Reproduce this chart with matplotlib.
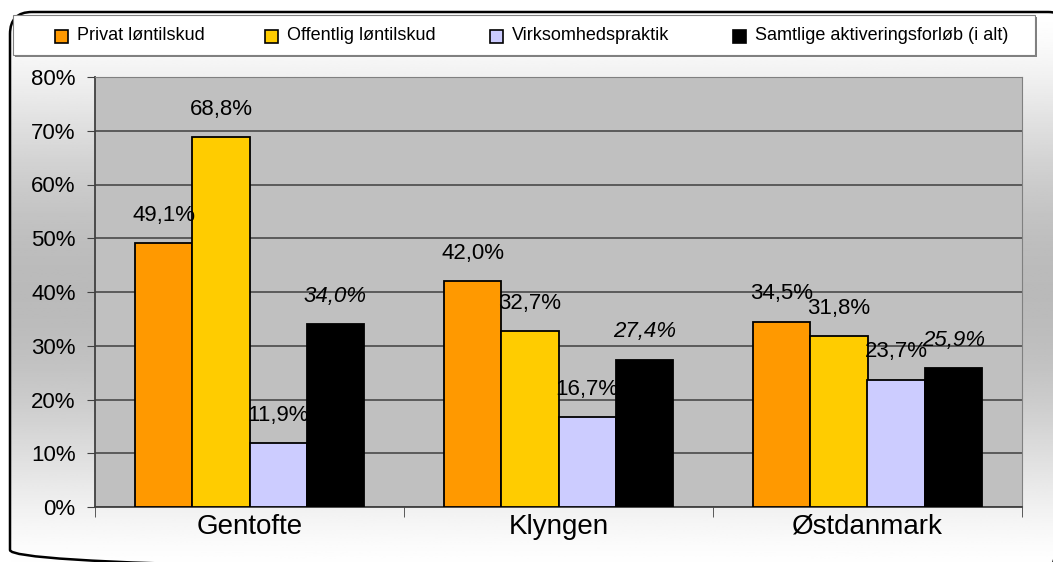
import numpy as np
import matplotlib.pyplot as plt
from matplotlib.patches import FancyBboxPatch, Rectangle

# data
categories = ["Gentofte", "Klyngen", "Østdanmark"]
series = ["Privat løntilskud", "Offentlig løntilskud", "Virksomhedspraktik",
          "Samtlige aktiveringsforløb (i alt)"]
privat = [49.1, 42.0, 34.5]
offentlig = [68.8, 32.7, 31.8]
virksomhed = [11.9, 16.7, 23.7]
samtlige = [34.0, 27.4, 25.9]
yticks = [0, 10, 20, 30, 40, 50, 60, 70, 80]

values = [privat, offentlig, virksomhed, samtlige]
colors = ["#FF9900", "#FFCC00", "#CCCCFF", "#000000"]

plt.rcParams['font.family'] = ['Liberation Sans', 'DejaVu Sans']

W, H = 1053, 562
fig = plt.figure(figsize=(W / 100, H / 100), dpi=100)

# background: rounded frame with vertical gradient
bg = fig.add_axes([0, 0, 1, 1])
bg.set_xlim(0, W)
bg.set_ylim(H, 0)
bg.axis('off')
t = np.linspace(0, 1, 300)
g = 1.0 - 0.27 * np.sin(np.pi * t) ** 1.5
grad = np.tile(g[:, None], (1, 2))
im = bg.imshow(grad, cmap='gray', vmin=0, vmax=1, aspect='auto',
               extent=[10, 1075, 572, 12], zorder=0)
frame = FancyBboxPatch((10, 12), 1060, 560, boxstyle="round,pad=0,rounding_size=22",
                       fc='none', ec='black', lw=1.8, zorder=2)
bg.add_patch(frame)
im.set_clip_path(frame)

# legend box drawn by hand to place entries like the reference
bg.add_patch(Rectangle((15, 17), 1022, 40, fc='#808080', ec='none', zorder=3))
bg.add_patch(Rectangle((13, 15), 1022, 40, fc='white', ec='#808080', lw=0.8, zorder=4))
leg_x = [55, 265, 490, 733]
for x, name, c in zip(leg_x, series, colors):
    bg.add_patch(Rectangle((x, 30), 13, 13, fc=c, ec='black', lw=1.2, zorder=5))
    bg.text(x + 22, 35, name, fontsize=13, va='center', ha='left', zorder=5)

# main plot
ax = fig.add_axes([95 / W, (H - 507) / H, (1022 - 95) / W, (507 - 77) / H])
ax.set_facecolor('#C0C0C0')
x = np.arange(len(categories))
bw = 0.185
for i, (vals, c) in enumerate(zip(values, colors)):
    pos = x + (i - 1.5) * bw
    bars = ax.bar(pos, vals, width=bw, color=c, edgecolor='black', lw=1.3, zorder=3)
    for b, v in zip(bars, vals):
        ax.annotate(f"{v:.1f}%".replace('.', ','), (b.get_x() + b.get_width() / 2, v),
                    xytext=(0, 20), textcoords='offset points', ha='center', va='center',
                    fontsize=16, style='italic' if i == 3 else 'normal', zorder=4)

ax.set_xlim(-0.5, 2.5)
ax.set_ylim(0, 80)
ax.set_yticks(yticks)
ax.set_yticklabels([f"{v}%" for v in yticks], fontsize=16)
ax.yaxis.grid(True, color='#404040', lw=1.1, zorder=1)
ax.set_xticks(x)
ax.set_xticklabels(categories, fontsize=20)
ax.set_xticks(np.arange(-0.5, 3, 1), minor=True)
ax.tick_params(axis='x', which='major', length=0, pad=5)
ax.tick_params(axis='x', which='minor', length=7, color='#404040', direction='out')
ax.tick_params(axis='y', length=6, color='#404040', pad=8)
for s in ['top', 'right']:
    ax.spines[s].set_color('#808080')
for s in ['left', 'bottom']:
    ax.spines[s].set_color('#404040')
    ax.spines[s].set_linewidth(1.3)

fig.savefig("out.png", dpi=100)
